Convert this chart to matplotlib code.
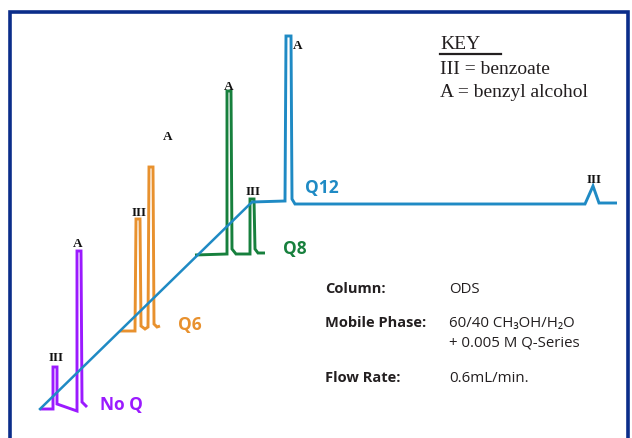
import matplotlib

matplotlib.use("Agg")
import matplotlib.pyplot as plt
import numpy as np

W, H = 632, 439

# four chromatograms stacked along a pseudo-3D depth axis (pixel frame)
NAMES = ["No Q", "Q6", "Q8", "Q12"]
COLORS = ["#9b1aff", "#e8912e", "#17803d", "#1f8ac4"]
ORIGIN_X = [40, 120, 195, 252]
ORIGIN_Y = [410, 332, 256, 203]

# trace vertices: retention offset from origin, signal height
NOQ_T = [0, 13, 13, 17, 17, 37, 37, 41, 42, 47]
NOQ_H = [0, 0, 42, 42, 5, -2, 158, 158, 7, 2]
Q6_T = [0, 15, 16, 20, 21, 25, 28, 29, 33, 34, 37, 40]
Q6_H = [0, 0, 112, 112, 5, 2, 4, 164, 164, 7, 4, 5]
Q8_T = [0, 32, 32, 36, 37, 41, 55, 55, 59, 60, 63, 70]
Q8_H = [0, 1, 164, 164, 6, 1, 1, 56, 56, 6, 2, 2]
Q12_T = [0, 33, 34, 39, 40, 43, 333, 341, 347, 365]
Q12_H = [0, 1, 166, 166, 3, -2, -2, 16, -1, -1]
TRACES = [(NOQ_T, NOQ_H), (Q6_T, Q6_H), (Q8_T, Q8_H), (Q12_T, Q12_H)]

KEY_LINES = ["III = benzoate", "A = benzyl alcohol"]
COND_NAMES = ["Column:", "Mobile Phase:", "Flow Rate:"]
COND_VALUES = [["ODS"], ["60/40 CH\u2083OH/H\u2082O", "+ 0.005 M Q-Series"],
               ["0.6mL/min."]]

fig = plt.figure(figsize=(W / 100, H / 100), dpi=100)
ax = fig.add_axes([0, 0, 1, 1])
ax.set_xlim(0, W)
ax.set_ylim(H, 0)
ax.axis("off")

# frame
navy = "#0b2d8a"
ax.plot([10, 10, 628, 628], [H, 13, 13, H], color=navy, lw=2.6,
        solid_joinstyle="miter", zorder=5)

for (t, h), ox, oy, c in zip(TRACES, ORIGIN_X, ORIGIN_Y, COLORS):
    ax.plot(ox + np.array(t), oy - np.array(h), color=c, lw=2.1,
            solid_joinstyle="miter", solid_capstyle="butt", zorder=2)

# depth axis
ax.plot([ORIGIN_X[0], ORIGIN_X[-1]], [ORIGIN_Y[0], ORIGIN_Y[-1]],
        color=COLORS[-1], lw=1.8, zorder=3)

# peak labels
pk = dict(family="Liberation Serif", weight="bold", fontsize=9.5,
          ha="center", va="center", color="#111111")
for x, y in [(78, 244), (168, 137), (229, 87), (298, 46)]:
    ax.text(x, y, "A", **pk)
for x, y in [(56, 358), (139, 213), (253, 192), (594, 180)]:
    ax.text(x, y, "III", **pk)

# trace names
for name, c, (x, y) in zip(NAMES, COLORS,
                           [(100, 405), (178, 325), (283, 249), (305, 188)]):
    ax.text(x, y, name, color=c, family="Open Sans", weight="bold",
            fontsize=12.5, ha="left", va="center")

# key
kt = dict(family="Liberation Serif", fontsize=14, color="#231f20",
          ha="left", va="baseline")
ax.text(440, 49, "KEY", **kt)
ax.plot([440, 501], [54.5, 54.5], color="#231f20", lw=1.6)
for i, s in enumerate(KEY_LINES):
    ax.text(440, 74 + 23 * i, s, **kt)

# run conditions
for s, vals, y in zip(COND_NAMES, COND_VALUES, [293, 327, 382]):
    ax.text(325, y, s, family=["Open Sans", "DejaVu Sans"], weight="bold",
            fontsize=10.5, color="#231f20", ha="left", va="baseline")
    for j, v in enumerate(vals):
        ax.text(449, y + 20 * j, v, family=["Open Sans", "DejaVu Sans"],
                fontsize=10.8, color="#231f20", ha="left", va="baseline")

fig.savefig("out.png", dpi=100)
